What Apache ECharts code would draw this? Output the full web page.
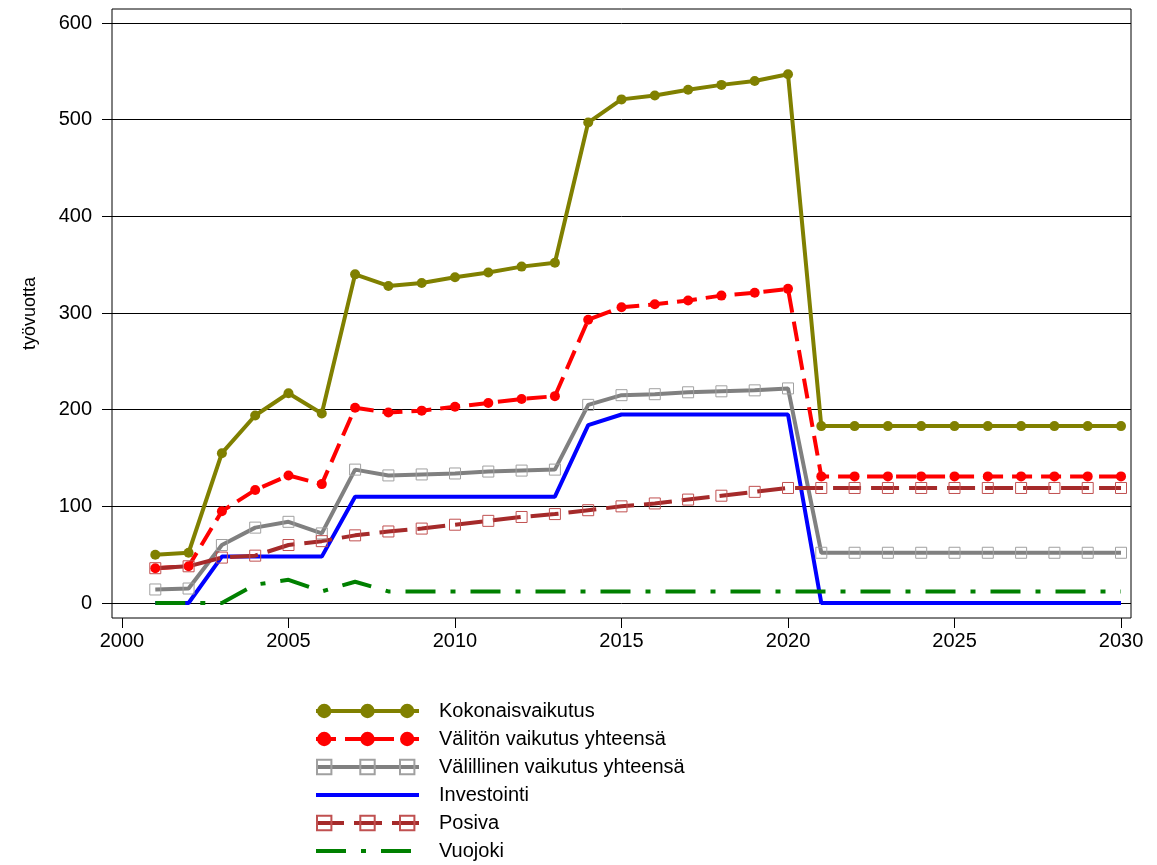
<!DOCTYPE html>
<html>
<head>
<meta charset="utf-8">
<script src="https://cdn.jsdelivr.net/npm/echarts@6/dist/echarts.min.js"></script>
<style>
  html, body { margin: 0; padding: 0; background: #fff; }
  #chart { width: 1157px; height: 865px; }
</style>
</head>
<body>
<div id="chart"></div>
<script>
const years = [];
for (let y = 2001; y <= 2030; y++) years.push(y);

const xTicks = [2000, 2005, 2010, 2015, 2020, 2025, 2030];
const yTicks = [0, 100, 200, 300, 400, 500, 600];

const kokonais = [50, 52, 155, 194, 217, 196, 340, 328, 331, 337, 342, 348, 352, 497, 521, 525, 531, 536, 540, 547,
  183, 183, 183, 183, 183, 183, 183, 183, 183, 183];
const valiton = [36, 38, 95, 117, 132, 123, 202, 197, 199, 203, 207, 211, 214, 293, 306, 309, 313, 318, 321, 325,
  131, 131, 131, 131, 131, 131, 131, 131, 131, 131];
const valillinen = [14, 15, 60, 78, 84, 72, 138, 132, 133, 134, 136, 137, 138, 205, 215, 216, 218, 219, 220, 222,
  52, 52, 52, 52, 52, 52, 52, 52, 52, 52];
const investointi = [0, 0, 48, 48, 48, 48, 110, 110, 110, 110, 110, 110, 110, 184, 195, 195, 195, 195, 195, 195,
  0, 0, 0, 0, 0, 0, 0, 0, 0, 0];
const posiva = [36, 38, 47, 49, 60, 64, 70, 74, 77, 81, 85, 89, 92, 96, 100, 103, 107, 111, 115, 119,
  119, 119, 119, 119, 119, 119, 119, 119, 119, 119];
const vuojoki = [0, 0, 0, 19, 24, 12, 22, 12, 12, 12, 12, 12, 12, 12, 12, 12, 12, 12, 12, 12,
  12, 12, 12, 12, 12, 12, 12, 12, 12, 12];

const seriesNames = ['Kokonaisvaikutus', 'Välitön vaikutus yhteensä', 'Välillinen vaikutus yhteensä',
  'Investointi', 'Posiva', 'Vuojoki'];

const pairs = (vals) => years.map((y, i) => [y, vals[i]]);

const font = 'Liberation Sans, Arial, sans-serif';

// legend rows; lines without markers get no symbol in the legend
const legendData = seriesNames.map((name) =>
  name === 'Investointi' || name === 'Vuojoki'
    ? { name: name, itemStyle: { opacity: 0 } }
    : { name: name }
);

// main legend draws line + middle marker + text, side legends only add the outer markers
const sideLegend = (left) => ({
  orient: 'vertical',
  left: left,
  top: 696,
  padding: [5, 5, 0, 5],
  itemWidth: 14,
  itemHeight: 18,
  itemGap: 8,
  selectedMode: false,
  data: legendData,
  lineStyle: { opacity: 0 },
  formatter: () => ' ',
  textStyle: { fontFamily: font, fontSize: 20, color: '#000' },
});

const myChart = echarts.init(document.getElementById('chart'));

const option = {
  animation: false,
  backgroundColor: '#fff',
  grid: {
    left: 112,
    right: 26,
    top: 9,
    bottom: 247,
    show: true,
    borderColor: '#000',
    borderWidth: 1,
  },
  legend: [
    {
      orient: 'vertical',
      left: 309,
      top: 696,
      padding: [5, 5, 0, 5],
      itemWidth: 103,
      itemHeight: 18,
      itemGap: 8,
      selectedMode: false,
      data: legendData,
      lineStyle: { width: 4 },
      textStyle: {
        fontFamily: font,
        fontSize: 20,
        color: '#000',
        padding: [0, 0, 0, 15],
      },
    },
    sideLegend(311),
    sideLegend(394),
  ],
  xAxis: {
    type: 'value',
    min: 1999.7,
    max: 2030.3,
    axisLine: { show: false, onZero: false },
    axisTick: {
      show: true,
      inside: false,
      length: 10,
      customValues: xTicks,
      lineStyle: { color: '#000' },
    },
    axisLabel: {
      customValues: xTicks,
      formatter: (v) => String(v),
      fontFamily: font,
      fontSize: 20,
      color: '#000',
      margin: 13,
    },
    splitLine: { show: false },
  },
  yAxis: {
    type: 'value',
    min: -15.5,
    max: 614.5,
    name: 'työvuotta',
    nameLocation: 'middle',
    nameGap: 73,
    nameTextStyle: { fontFamily: font, fontSize: 18, color: '#000' },
    axisLine: { show: false, onZero: false },
    axisTick: {
      show: true,
      length: 10,
      customValues: yTicks,
      lineStyle: { color: '#000' },
    },
    axisLabel: {
      customValues: yTicks,
      fontFamily: font,
      fontSize: 20,
      color: '#000',
      margin: 20,
    },
    splitLine: { show: true, lineStyle: { color: '#000', width: 1 } },
  },
  series: [
    {
      name: seriesNames[0],
      type: 'line',
      data: pairs(kokonais),
      symbol: 'circle',
      symbolSize: 10,
      lineStyle: { color: '#808000', width: 4 },
      itemStyle: { color: '#808000' },
    },
    {
      name: seriesNames[1],
      type: 'line',
      data: pairs(valiton),
      symbol: 'circle',
      symbolSize: 10,
      lineStyle: { color: '#ff0000', width: 4, type: [20, 9] },
      itemStyle: { color: '#ff0000' },
    },
    {
      name: seriesNames[2],
      type: 'line',
      data: pairs(valillinen),
      symbol: 'rect',
      symbolSize: 11,
      lineStyle: { color: '#808080', width: 4 },
      itemStyle: { color: 'rgba(0,0,0,0)', borderColor: '#a0a0a0', borderWidth: 1 },
    },
    {
      name: seriesNames[3],
      type: 'line',
      data: pairs(investointi),
      showSymbol: false,
      symbol: 'none',
      lineStyle: { color: '#0000ff', width: 4 },
      itemStyle: { color: '#0000ff' },
    },
    {
      name: seriesNames[4],
      type: 'line',
      data: pairs(posiva),
      symbol: 'rect',
      symbolSize: 11,
      lineStyle: { color: '#a52a2a', width: 4, type: [28, 10] },
      itemStyle: { color: 'rgba(0,0,0,0)', borderColor: '#c05050', borderWidth: 1 },
    },
    {
      name: seriesNames[5],
      type: 'line',
      data: pairs(vuojoki),
      symbol: 'none',
      lineStyle: { color: '#008000', width: 4, type: [30, 15, 5, 15] },
      itemStyle: { color: '#008000' },
    },
  ],
};

myChart.setOption(option);
</script>
</body>
</html>
